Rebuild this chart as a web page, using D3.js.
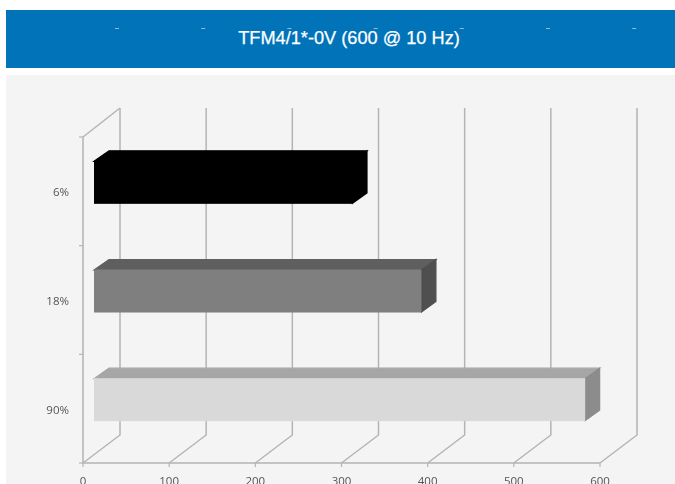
<!DOCTYPE html>
<html><head><meta charset="utf-8">
<script src="https://cdn.jsdelivr.net/npm/d3@7"></script>
<style>html,body{margin:0;padding:0;background:#fff;overflow:hidden}svg{display:block}</style>
</head><body><div id="c"></div>
<script>
const titleText = "TFM4/1*-0V (600 @ 10 Hz)";
const categories = ["6%","18%","90%"];
const values = [300,380,570];
const xTicks = [0,100,200,300,400,500,600];
const frontColors = ["#000000","#7f7f7f","#d9d9d9"];
const topColors = ["#000000","#5f5f5f","#a6a6a6"];
const sideColors = ["#000000","#4f4f4f","#8c8c8c"];

const W=675,H=484;
const svg=d3.select("#c").append("svg").attr("width",W).attr("height",H);
const defs=svg.append("defs");
defs.append("filter").attr("id","soft").append("feGaussianBlur").attr("stdDeviation",0.55);
svg.append("rect").attr("x",6).attr("y",75).attr("width",669).attr("height",H-75).attr("fill","#f4f4f4");
svg.append("rect").attr("x",6).attr("y",10).attr("width",669).attr("height",58).attr("fill","#0073b9");
svg.append("text").attr("x",349).attr("y",44).attr("text-anchor","middle")
  .attr("font-family","Liberation Sans, Arial, sans-serif").attr("font-size",18.2)
  .attr("fill","#fff").attr("stroke","#fff").attr("stroke-width",0.25).text(titleText);
svg.selectAll(".dot").data(xTicks).join("rect").attr("class","dot")
  .attr("x",(d,i)=>117+i*86.2-2).attr("y",28).attr("width",4).attr("height",1).attr("fill","#8fbcdc");

const x=d3.scaleLinear().domain([0,600]).range([83,600]);
const y=d3.scaleBand().domain(categories).range([137,463]);
const dx=37,dy=-28;
const g=svg.append("g").attr("filter","url(#soft)");
const grid="#b4b4b4";
xTicks.forEach(t=>{
  const px=x(t);
  g.append("path").attr("fill","none").attr("stroke",grid).attr("stroke-width",1.5)
   .attr("d",d3.line()([[px,463],[px+dx,463+dy],[px+dx,108]]));
});
g.append("path").attr("fill","none").attr("stroke",grid).attr("stroke-width",1.5)
  .attr("d",d3.line()([[x(0)+dx,108],[x(0),137],[x(0),463],[x(600),463]]));
xTicks.forEach(t=>g.append("line").attr("x1",x(t)).attr("x2",x(t)).attr("y1",463).attr("y2",467).attr("stroke",grid).attr("stroke-width",1.2));
[137,245.7,354.3,463].forEach(v=>g.append("line").attr("x1",79).attr("x2",83).attr("y1",v).attr("y2",v).attr("stroke",grid).attr("stroke-width",1.2));

const fx=11,bd=15,bh=43,bdy=10.5;
categories.forEach((c,i)=>{
  const x0=x(0)+fx, x1=x(values[i])+fx;
  const cy=y(c)+y.bandwidth()/2-9;
  const t=cy-bh/2,b=cy+bh/2;
  const bar=g.append("g");
  bar.append("path").attr("fill",topColors[i]).attr("stroke",topColors[i]).attr("stroke-width",1.2)
    .attr("d",d3.line()([[x0,t+0.5],[x0+bd,t-bdy+0.5],[x1+bd-0.5,t-bdy+0.5],[x1,t+0.5]])+"Z");
  bar.append("path").attr("fill",sideColors[i]).attr("stroke",sideColors[i]).attr("stroke-width",1.2)
    .attr("d",d3.line()([[x1,t+0.5],[x1+bd-0.5,t-bdy+0.5],[x1+bd-0.5,b-bdy-0.5],[x1,b-0.5]])+"Z");
  bar.append("rect").attr("x",x0).attr("y",t).attr("width",x1-x0).attr("height",bh).attr("fill",frontColors[i]);
});
const lab=svg.append("g").attr("font-family","Open Sans, sans-serif").attr("font-size",11.5).attr("fill","#555").attr("filter","url(#soft)");
xTicks.forEach(t=>lab.append("text").attr("x",x(t)).attr("y",485).attr("text-anchor","middle").text(t));
categories.forEach(c=>lab.append("text").attr("x",69).attr("y",y(c)+y.bandwidth()/2+5).attr("text-anchor","end").text(c));
</script></body></html>
